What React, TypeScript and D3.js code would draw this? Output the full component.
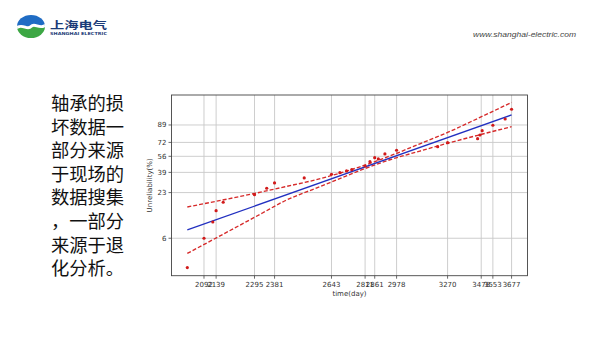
import React from "react";
import * as d3 from "d3";

// ---- data ----
const times = [2029, 2092, 2126, 2139, 2167, 2295, 2347, 2381, 2514, 2643, 2684, 2717, 2743, 2811, 2836, 2861, 2880, 2915, 2978, 3211, 3270, 3455, 3470, 3484, 3553, 3634, 3677];
const unreliability = [2.42, 6.0, 9.82, 13.74, 17.53, 21.72, 25.9, 29.83, 33.95, 37.24, 38.75, 40.37, 41.64, 45.41, 50.02, 54.46, 53.0, 58.7, 62.99, 67.14, 71.72, 76.14, 80.0, 84.18, 88.78, 93.05, 97.33];

const fitT = [2029, 3677];
const fitF = [7.72, 95.15];

const bandT = [2029, 2327, 2427, 2564, 2636, 2785, 2942, 3108, 3270, 3470, 3677];
const upperF = [15.3, 23.49, 26.96, 32.22, 35.7, 44.55, 56.42, 70.45, 82.51, 93.94, 98.88];
const lowerF = [3.76, 12.74, 18.29, 25.66, 30.13, 40.92, 52.13, 62.03, 71.07, 80.29, 87.67];

const xTicks = [2092, 2139, 2295, 2381, 2643, 2811, 2861, 2978, 3270, 3478, 3553, 3677];
const yTicks = [6, 23, 39, 56, 72, 89];

const textLines = ["轴承的损", "坏数据一", "部分来源", "于现场的", "数据搜集", "，一部分", "来源于退", "化分析。"];

// ---- layout ----
const W = 600;
const H = 343;
const plot = { left: 171.5, right: 527.5, top: 95, bottom: 275.7 };

const weib = (pct: number) => Math.log(-Math.log(1 - pct / 100));

const x = d3.scaleLog().domain([1971, 3786]).range([plot.left, plot.right]);
const yLin = d3
  .scaleLinear()
  .domain([weib(1.88), weib(99.66)])
  .range([plot.bottom, plot.top]);
const y = (pct: number) => yLin(weib(pct));

const lineGen = d3
  .line<[number, number]>()
  .x((d) => x(d[0]))
  .y((d) => y(d[1]));
const curveGen = d3
  .line<[number, number]>()
  .x((d) => x(d[0]))
  .y((d) => y(d[1]))
  .curve(d3.curveMonotoneX);

const zip = (a: number[], b: number[]) => a.map((v, i) => [v, b[i]] as [number, number]);

const tickFont = "DejaVu Sans, sans-serif";

export default function App() {
  return (
    <svg
      width={W}
      height={H}
      viewBox={`0 0 ${W} ${H}`}
      style={{ position: "absolute", left: 0, top: 0, background: "#fff" }}
    >
      <rect x={0} y={0} width={W} height={H} fill="#fff" />

      {/* logo */}
      <g>
        <clipPath id="logoClip">
          <ellipse cx={31} cy={26.5} rx={14} ry={11.5} />
        </clipPath>
        <g clipPath="url(#logoClip)">
          <rect x={16} y={14} width={30} height={13} fill="#1f6cc4" />
          <rect x={16} y={26.5} width={30} height={13} fill="#3da744" />
          <path
            d="M15,29 C22,22 27,31 31,26.5 C35,22 40,31 47,24"
            fill="none"
            stroke="#fff"
            strokeWidth={3}
          />
        </g>
        <text
          x={50}
          y={29}
          fontFamily="Noto Sans CJK SC, sans-serif"
          fontWeight="bold"
          fontSize={10.5}
          fill="#1c3b78"
          textLength={57}
          lengthAdjust="spacingAndGlyphs"
        >
          上海电气
        </text>
        <text
          x={50}
          y={35}
          fontFamily="DejaVu Sans, sans-serif"
          fontWeight="bold"
          fontSize={4.2}
          fill="#1c3b78"
          textLength={57}
          lengthAdjust="spacingAndGlyphs"
        >
          SHANGHAI ELECTRIC
        </text>
      </g>

      <text
        x={473}
        y={37}
        fontFamily="Liberation Sans, Arial, sans-serif"
        fontStyle="italic"
        fontSize={8}
        fill="#444"
        textLength={103}
        lengthAdjust="spacingAndGlyphs"
      >
        www.shanghai-electric.com
      </text>

      {/* Chinese text block */}
      {textLines.map((t, i) => (
        <text
          key={i}
          x={51}
          y={110 + i * 23.6}
          fontFamily="Noto Sans CJK SC, sans-serif"
          fontSize={18.3}
          fill="#111"
        >
          {t}
        </text>
      ))}

      {/* gridlines */}
      <g stroke="#c8c8c8" strokeWidth={0.9}>
        {xTicks.map((t) => (
          <line key={"gx" + t} x1={x(t)} x2={x(t)} y1={plot.top} y2={plot.bottom} />
        ))}
        {yTicks.map((t) => (
          <line key={"gy" + t} x1={plot.left} x2={plot.right} y1={y(t)} y2={y(t)} />
        ))}
      </g>

      {/* bands */}
      <path
        d={curveGen(zip(bandT, upperF)) || ""}
        fill="none"
        stroke="#d62a2a"
        strokeWidth={1.35}
        strokeDasharray="4,2"
      />
      <path
        d={curveGen(zip(bandT, lowerF)) || ""}
        fill="none"
        stroke="#d62a2a"
        strokeWidth={1.35}
        strokeDasharray="4,2"
      />
      {/* fit line */}
      <path d={lineGen(zip(fitT, fitF)) || ""} fill="none" stroke="#2230c0" strokeWidth={1.35} />

      {/* points */}
      {times.map((t, i) => (
        <circle key={"p" + i} cx={x(t)} cy={y(unreliability[i])} r={1.6} fill="#d11a1a" />
      ))}

      {/* frame */}
      <rect
        x={plot.left}
        y={plot.top}
        width={plot.right - plot.left}
        height={plot.bottom - plot.top}
        fill="none"
        stroke="#444"
        strokeWidth={0.9}
      />

      {/* x ticks */}
      <g fontFamily={tickFont} fontSize={7} fill="#333" textAnchor="middle">
        {xTicks.map((t) => (
          <g key={"xt" + t}>
            <line x1={x(t)} x2={x(t)} y1={plot.bottom} y2={plot.bottom + 3} stroke="#444" strokeWidth={0.8} />
            <text x={x(t)} y={plot.bottom + 11}>
              {String(t)}
            </text>
          </g>
        ))}
      </g>
      {/* y ticks */}
      <g fontFamily={tickFont} fontSize={7} fill="#333" textAnchor="end">
        {yTicks.map((t) => (
          <g key={"yt" + t}>
            <line x1={plot.left - 3} x2={plot.left} y1={y(t)} y2={y(t)} stroke="#444" strokeWidth={0.8} />
            <text x={plot.left - 5} y={y(t) + 2.5}>
              {String(t)}
            </text>
          </g>
        ))}
      </g>

      {/* axis titles */}
      <text
        x={(plot.left + plot.right) / 2}
        y={296}
        textAnchor="middle"
        fontFamily={tickFont}
        fontSize={7}
        fill="#333"
      >
        time(day)
      </text>
      <text
        transform={`translate(152,${(plot.top + plot.bottom) / 2}) rotate(-90)`}
        textAnchor="middle"
        fontFamily={tickFont}
        fontSize={7}
        fill="#333"
      >
        Unreliability(%)
      </text>
    </svg>
  );
}
